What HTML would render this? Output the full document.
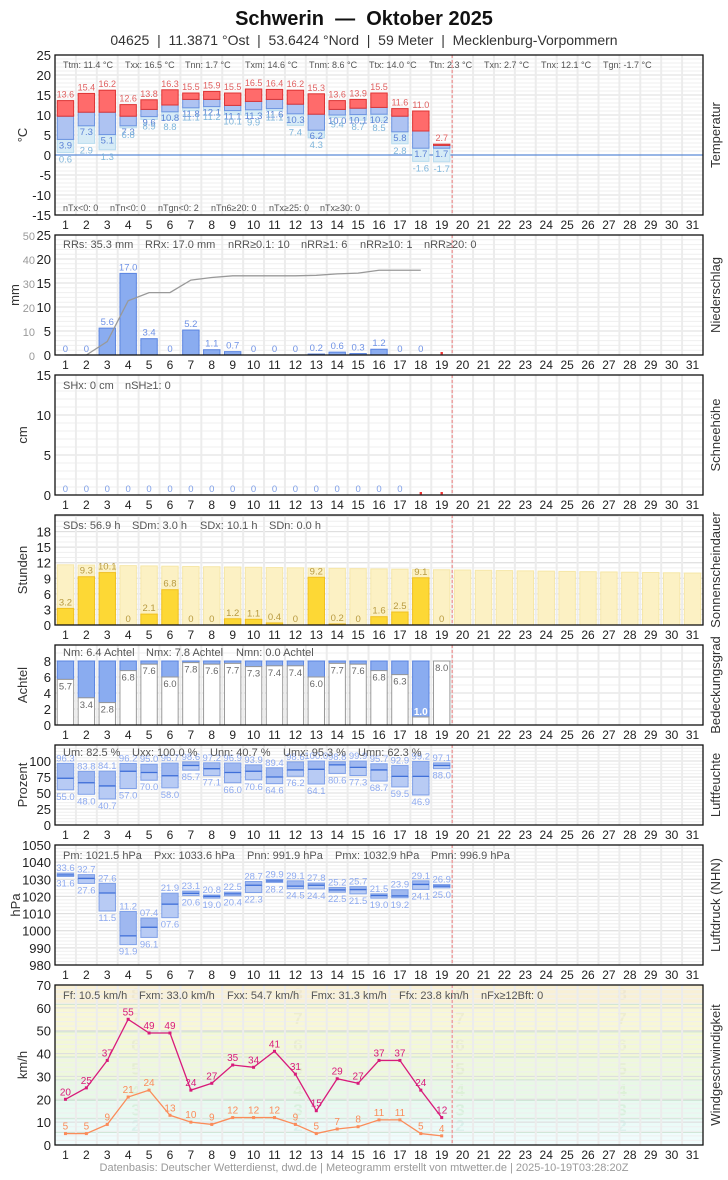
<!DOCTYPE html>
<html><head><meta charset="utf-8"><style>
body{margin:0;background:#fff;width:728px;height:1175px;overflow:hidden;font-family:"Liberation Sans",sans-serif}
svg text{font-family:"Liberation Sans",sans-serif}
</style></head><body>
<svg id="s" width="728" height="1175" viewBox="0 0 728 1175" xmlns="http://www.w3.org/2000/svg">
<text x="364" y="25" text-anchor="middle" font-size="20" font-weight="bold" fill="#111" xml:space="preserve">Schwerin &#160;— &#160;Oktober 2025</text>
<text x="364" y="45" text-anchor="middle" font-size="14" fill="#333" xml:space="preserve">04625 &#160;| &#160;11.3871 °Ost &#160;| &#160;53.6424 °Nord &#160;| &#160;59 Meter &#160;| &#160;Mecklenburg-Vorpommern</text>
<g id="g"></g>
<g font-size="9" fill="#555">
<text x="63" y="68">Ttm: 11.4 °C</text><text x="125" y="68">Txx: 16.5 °C</text><text x="185" y="68">Tnn: 1.7 °C</text><text x="245" y="68">Txm: 14.6 °C</text><text x="309" y="68">Tnm: 8.6 °C</text><text x="369" y="68">Ttx: 14.0 °C</text><text x="429" y="68">Ttn: 2.3 °C</text><text x="484" y="68">Txn: 2.7 °C</text><text x="541" y="68">Tnx: 12.1 °C</text><text x="603" y="68">Tgn: -1.7 °C</text>
<text x="63" y="211">nTx&lt;0: 0</text><text x="110" y="211">nTn&lt;0: 0</text><text x="158" y="211">nTgn&lt;0: 2</text><text x="211" y="211">nTn6≥20: 0</text><text x="269" y="211">nTx≥25: 0</text><text x="320" y="211">nTx≥30: 0</text>
</g>
<g font-size="11" fill="#555">
<text x="63" y="248">RRs: 35.3 mm</text><text x="145" y="248">RRx: 17.0 mm</text><text x="228" y="248">nRR≥0.1: 10</text><text x="301" y="248">nRR≥1: 6</text><text x="360" y="248">nRR≥10: 1</text><text x="424" y="248">nRR≥20: 0</text>
<text x="63" y="389">SHx: 0 cm</text><text x="125" y="389">nSH≥1: 0</text>
<text x="63" y="529">SDs: 56.9 h</text><text x="132" y="529">SDm: 3.0 h</text><text x="200" y="529">SDx: 10.1 h</text><text x="269" y="529">SDn: 0.0 h</text>
<text x="63" y="656">Nm: 6.4 Achtel</text><text x="146" y="656">Nmx: 7.8 Achtel</text><text x="236" y="656">Nmn: 0.0 Achtel</text>
<text x="63" y="756">Um: 82.5 %</text><text x="132" y="756">Uxx: 100.0 %</text><text x="210" y="756">Unn: 40.7 %</text><text x="283" y="756">Umx: 95.3 %</text><text x="358" y="756">Umn: 62.3 %</text>
<text x="63" y="859">Pm: 1021.5 hPa</text><text x="154" y="859">Pxx: 1033.6 hPa</text><text x="247" y="859">Pnn: 991.9 hPa</text><text x="335" y="859">Pmx: 1032.9 hPa</text><text x="431" y="859">Pmn: 996.9 hPa</text>
<text x="63" y="999">Ff: 10.5 km/h</text><text x="139" y="999">Fxm: 33.0 km/h</text><text x="227" y="999">Fxx: 54.7 km/h</text><text x="311" y="999">Fmx: 31.3 km/h</text><text x="399" y="999">Ffx: 23.8 km/h</text><text x="481" y="999">nFx≥12Bft: 0</text>
</g>
<g font-size="13" fill="#333">
<text transform="translate(27,135) rotate(-90)" text-anchor="middle">°C</text>
<text transform="translate(19,295) rotate(-90)" text-anchor="middle">mm</text>
<text transform="translate(27,435) rotate(-90)" text-anchor="middle">cm</text>
<text transform="translate(27,570) rotate(-90)" text-anchor="middle">Stunden</text>
<text transform="translate(27,685) rotate(-90)" text-anchor="middle">Achtel</text>
<text transform="translate(27,785) rotate(-90)" text-anchor="middle">Prozent</text>
<text transform="translate(20,905) rotate(-90)" text-anchor="middle">hPa</text>
<text transform="translate(27,1065) rotate(-90)" text-anchor="middle">km/h</text>
<text transform="translate(720,135) rotate(-90)" text-anchor="middle">Temperatur</text>
<text transform="translate(720,295) rotate(-90)" text-anchor="middle">Niederschlag</text>
<text transform="translate(720,435) rotate(-90)" text-anchor="middle">Schneehöhe</text>
<text transform="translate(720,570) rotate(-90)" text-anchor="middle">Sonnenscheindauer</text>
<text transform="translate(720,685) rotate(-90)" text-anchor="middle">Bedeckungsgrad</text>
<text transform="translate(720,785) rotate(-90)" text-anchor="middle">Luftfeuchte</text>
<text transform="translate(720,905) rotate(-90)" text-anchor="middle">Luftdruck (NHN)</text>
<text transform="translate(720,1065) rotate(-90)" text-anchor="middle">Windgeschwindigkeit</text>
</g>
<text x="364" y="1171" text-anchor="middle" font-size="11" fill="#999">Datenbasis: Deutscher Wetterdienst, dwd.de | Meteogramm erstellt von mtwetter.de | 2025-10-19T03:28:20Z</text>
</svg>
<script>
var NS="http://www.w3.org/2000/svg",G=document.getElementById('g'),W=648/31,L=55,R=703;
function X(d){return L+(d-0.5)*W}
function el(t,a,txt){var e=document.createElementNS(NS,t);for(var k in a)e.setAttribute(k,a[k]);if(txt!=null)e.textContent=txt;G.appendChild(e);return e}
function rect(x,y1,y2,w,f,s,sw){var t=Math.min(y1,y2),h=Math.abs(y2-y1);return el('rect',{x:x,y:t,width:w,height:Math.max(h,0.5),fill:f,stroke:s||'none','stroke-width':sw||1})}
function txt(x,y,s,f,sz,anc,extra){var a={x:x,y:y,fill:f,'font-size':sz||10,'text-anchor':anc||'middle'};if(extra)for(var k in extra)a[k]=extra[k];return el('text',a,s)}
function panel(top,bot,min,max,minor,major,bg){
 var Y=function(v){return bot-(v-min)/(max-min)*(bot-top)};
 if(bg)bg(Y);
 for(var v=Math.ceil(min/minor)*minor;v<=max+1e-9;v+=minor){el('line',{x1:L,x2:R,y1:Y(v),y2:Y(v),stroke:'#efefef','stroke-width':1})}
 for(var v=Math.ceil(min/major)*major;v<=max+1e-9;v+=major){el('line',{x1:L,x2:R,y1:Y(v),y2:Y(v),stroke:'#dcdcdc','stroke-width':1})}
 for(var d=1;d<31;d++){el('line',{x1:L+d*W,x2:L+d*W,y1:top,y2:bot,stroke:'#ececec','stroke-width':2})}
 el('line',{x1:L+19*W,x2:L+19*W,y1:top,y2:bot,stroke:'#f08080','stroke-width':1,'stroke-dasharray':'3,2'});
 for(var d=1;d<=31;d++)txt(X(d),bot+14,d,'#222',12);
 return Y}
function frame(top,bot){el('rect',{x:L,y:top,width:R-L,height:bot-top,fill:'none',stroke:'#111','stroke-width':1.3})}
function ticks(Y,vals,x,f,sz){vals.forEach(function(v){txt(x||51,Y(v)+5,v,f||'#222',sz||13,'end')})}
var bw=16.4,o=bw/2;
var Tx=[13.6,15.4,16.2,12.6,13.8,16.3,15.5,15.9,15.5,16.5,16.4,16.2,15.3,13.6,13.9,15.5,11.6,11.0,2.7];
var Tm=[9.7,10.7,10.7,9.7,11.4,12.5,13.9,13.9,12.4,13.4,13.9,12.7,10.2,11.4,11.7,11.9,9.7,6.0,2.4];
var Tn=[3.9,7.3,5.1,7.3,9.6,10.8,11.8,12.1,11.1,11.3,11.6,10.3,6.2,10.0,10.1,10.2,5.8,1.7,1.7];
var Tg=[0.6,2.9,1.3,6.8,8.9,8.8,11.1,11.2,10.1,9.9,11.1,7.4,4.3,9.4,8.7,8.5,2.8,-1.6,-1.7];
var Y=panel(55,215,-15,25,1,5);
el('line',{x1:L,x2:R,y1:Y(0),y2:Y(0),stroke:'#5b8ad6','stroke-width':1.2});
for(var i=0;i<19;i++){var x=X(i+1)-o;
 rect(x,Y(Tn[i]),Y(Tg[i]),bw,'#d6ebf6','#b9dcef');
 rect(x,Y(Tm[i]),Y(Tn[i]),bw,'#aec3f2','#6b93e0');
 rect(x,Y(Tx[i]),Y(Tm[i]),bw,'#ff6b6b','#d33');
 txt(X(i+1),Y(Tx[i])-3,Tx[i].toFixed(1),'#e06060',9);
 txt(X(i+1),Y(Tn[i])+9,Tn[i].toFixed(1),'#5b82d6',9.5);
 txt(X(i+1),Y(Tg[i])+10,Tg[i].toFixed(1),'#7fb6dc',9.5);}
ticks(Y,[25,20,15,10,5,0,-5,-10,-15]);frame(55,215);
var P=[0,0,5.6,17.0,3.4,0,5.2,1.1,0.7,0,0,0,0.2,0.6,0.3,1.2,0,0];
Y=panel(235,355,0,25,1,5);
var cum=0,pts=[];
for(var i=0;i<18;i++){cum+=P[i];pts.push(X(i+1)+','+(355-cum*2.4));
 if(P[i]>0)rect(X(i+1)-o,Y(P[i]),355,bw,'#8aacf0','#5a84e0');
 txt(X(i+1),Y(P[i])-3,P[i]==0?'0':P[i].toFixed(1),'#6f92e6',9.5);}
el('polyline',{points:pts.join(' '),fill:'none',stroke:'#999','stroke-width':1.3});
el('rect',{x:X(19)-1.2,y:352,width:2.4,height:2.4,fill:'#e33'});
ticks(Y,[25,20,15,10,5,0]);
[50,40,30,20,10,0].forEach(function(v){txt(35,355-v*2.4+5,v,'#999',11,'end')});
frame(235,355);
Y=panel(375,495,0,15,1,5);
for(var i=1;i<=17;i++)txt(X(i),492,'0','#7e9fe8',9.5);
el('rect',{x:X(18)-1.2,y:492,width:2.4,height:2.4,fill:'#e33'});el('rect',{x:X(19)-1.2,y:492,width:2.4,height:2.4,fill:'#e33'});
ticks(Y,[15,10,5,0]);frame(375,495);
var S=[3.2,9.3,10.1,0,2.1,6.8,0,0,1.2,1.1,0.4,0,9.2,0.2,0,1.6,2.5,9.1,0];
Y=panel(515,625,0,21.2,1,3);
for(var d=1;d<=31;d++)rect(X(d)-o,Y(11.6-0.053*(d-1)),625,bw,'#fcf1c4','#f6e7a8');
for(var i=0;i<19;i++){if(S[i]>0)rect(X(i+1)-o,Y(S[i]),625,bw,'#fdd835','#f0c020');
 txt(X(i+1),Y(S[i])-3,S[i]==0?'0':S[i].toFixed(1),'#b89a40',9.5);}
ticks(Y,[18,15,12,9,6,3,0]);frame(515,625);
var N=[5.7,3.4,2.8,6.8,7.6,6.0,7.8,7.6,7.7,7.3,7.4,7.4,6.0,7.7,7.6,6.8,6.3,1.0,8.0];
Y=panel(645,725,0,10,1,2);
for(var i=0;i<19;i++){var x=X(i+1)-o;
 rect(x,Y(8),Y(N[i]),bw,'#8aacf0','#5a84e0');
 rect(x,Y(N[i]),725,bw,'#fff','#999');
 if(i==17)txt(X(i+1),Y(N[i])-2,'1.0','#fff',10,'middle',{'font-weight':'bold'});
 else txt(X(i+1),Y(N[i])+10,N[i].toFixed(1),'#666',9.5);}
ticks(Y,[8,6,4,2,0]);frame(645,725);
var Ux=[96.3,83.8,84.1,96.2,95.0,96.7,98.6,97.2,96.9,93.9,89.4,98.6,100,98.8,99.9,95.7,92.9,99.2,97.1];
var Un=[55.0,48.0,40.7,57.0,70.0,58.0,85.7,77.1,66.0,70.6,64.6,76.2,64.1,80.6,77.3,68.7,59.5,46.9,88.0];
var Um=[73,66,61,84,82,77,93,88,82,84,75,86,87,94,90,86,76,76,93];
Y=panel(745,825,0,125,5,25);
for(var i=0;i<19;i++){var x=X(i+1)-o;
 rect(x,Y(Um[i]),Y(Un[i]),bw,'#b8cbf4','#7fa0e8');
 rect(x,Y(Ux[i]),Y(Um[i]),bw,'#9fb8f0','#7fa0e8');
 el('line',{x1:x,x2:x+bw,y1:Y(Um[i]),y2:Y(Um[i]),stroke:'#3f6fd8','stroke-width':1.3});
 txt(X(i+1),Y(Ux[i])-2,Ux[i].toFixed(1),'#8eaaf0',9.5);
 txt(X(i+1),Y(Un[i])+10,Un[i].toFixed(1),'#8eaaf0',9.5);}
ticks(Y,[100,75,50,25,0]);frame(745,825);
var Px=[1033.6,1032.7,1027.6,1011.2,1007.4,1021.9,1023.1,1020.8,1022.5,1028.7,1029.9,1029.1,1027.8,1025.2,1025.7,1021.5,1023.9,1029.1,1026.9];
var Pn=[1031.6,1027.6,1011.5,991.9,996.1,1007.6,1020.6,1019.0,1020.4,1022.3,1028.2,1024.5,1024.4,1022.5,1021.5,1019.0,1019.2,1024.1,1025.0];
var Pm=[1032.5,1030.5,1022,997,1002,1015.5,1021.8,1020,1021.5,1026.5,1029,1026,1026.5,1023.8,1024,1020.5,1020.3,1027,1026];
function pf(v){var r=(v%100).toFixed(1);return r.length<4?'0'+r:r}
Y=panel(845,965,980,1050,2,10);
for(var i=0;i<19;i++){var x=X(i+1)-o;
 rect(x,Y(Pm[i]),Y(Pn[i]),bw,'#b8cbf4','#7fa0e8');
 rect(x,Y(Px[i]),Y(Pm[i]),bw,'#9fb8f0','#7fa0e8');
 el('line',{x1:x,x2:x+bw,y1:Y(Pm[i]),y2:Y(Pm[i]),stroke:'#3f6fd8','stroke-width':1.3});
 txt(X(i+1),Y(Px[i])-2,pf(Px[i]),'#8eaaf0',9.5);
 txt(X(i+1),Y(Pn[i])+10,pf(Pn[i]),'#8eaaf0',9.5);}
ticks(Y,[1050,1040,1030,1020,1010,1000,990,980]);frame(845,965);
var Fx=[20,25,37,55,49,49,24,27,35,34,41,31,15,29,27,37,37,24,12];
var Ff=[5,5,9,21,24,13,10,9,12,12,12,9,5,7,8,11,11,5,4];
Y=panel(985,1145,0,70,2,10,function(Y){
 var b=[[0,1,'#f2fbfd'],[1,5.5,'#effcfc'],[5.5,11.5,'#ebfbf8'],[11.5,19.5,'#e8faf1'],[19.5,28.5,'#e8f8e6'],[28.5,38.5,'#eef8dc'],[38.5,49.5,'#f3f8d6'],[49.5,61.5,'#f8f7d6'],[61.5,70,'#f8f0d6']];
 b.forEach(function(q){el('rect',{x:L,y:Y(q[1]),width:R-L,height:Y(q[0])-Y(q[1]),fill:q[2]})});
 [5.5,11.5,19.5,28.5,38.5,49.5,61.5].forEach(function(v){el('line',{x1:L,x2:R,y1:Y(v),y2:Y(v),stroke:'#cde3d3','stroke-width':1})});
 var nb=[[2,8.5,'#d8f1ec'],[3,15.5,'#d8f1de'],[4,24,'#dcf1d6'],[5,33.5,'#e4eed0'],[6,44,'#e9edce'],[7,55.5,'#eeedce'],[8,66,'#efe7ce']];
 [136,298,460,622].forEach(function(x){nb.forEach(function(n){txt(x,Y(n[1])+6,n[0],n[2],17,'middle',{'font-weight':'bold'})})});
});
function line(v,c){var p=[];for(var i=0;i<v.length;i++){p.push(X(i+1)+','+Y(v[i]));el('rect',{x:X(i+1)-1.5,y:Y(v[i])-1.5,width:3,height:3,fill:c});txt(X(i+1),Y(v[i])-4,v[i],c,10)}
 el('polyline',{points:p.join(' '),fill:'none',stroke:c,'stroke-width':1.3})}
line(Ff,'#fb8c5a');line(Fx,'#d81b7a');
ticks(Y,[70,60,50,40,30,20,10,0]);frame(985,1145);
</script>
</body></html>
